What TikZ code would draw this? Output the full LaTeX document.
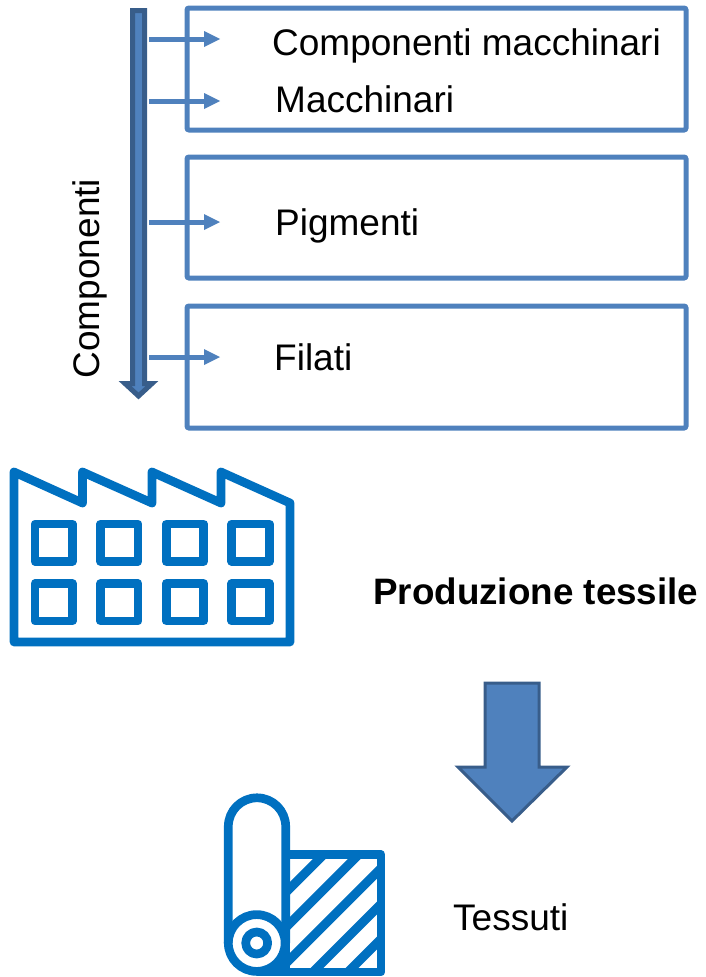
\documentclass[tikz,border=0pt]{standalone}
\usepackage{fontspec}
\setmainfont{Liberation Sans}
\definecolor{boxblue}{HTML}{4F81BD}
\definecolor{darkblue}{HTML}{385D8A}
\definecolor{iconblue}{HTML}{0070C0}
\tikzset{
  panel/.style={draw=boxblue,line width=5pt,rounded corners=2pt,outer sep=0pt,inner sep=0pt,anchor=north west},
  bigarrow/.style={draw=darkblue,fill=boxblue,line join=miter},
  icon/.style={draw=iconblue,line width=8.7pt,line join=round},
  label/.style={anchor=base west,inner sep=0pt,font=\fontsize{37}{40}\selectfont},
  boldlabel/.style={anchor=base west,inner sep=0pt,font=\fontsize{36.8}{40}\selectfont\bfseries},
}
\begin{document}
\begin{tikzpicture}[x=1pt,y=-1pt]
\useasboundingbox (0,0) rectangle (706,977);
% boxes
\node[panel,minimum width=499pt,minimum height=122pt] (box1) at (187,8) {};
\node[panel,minimum width=499pt,minimum height=121pt] (box2) at (187,157) {};
\node[panel,minimum width=499pt,minimum height=122pt] (box3) at (187,306) {};
% supply arrow
\draw[bigarrow,line width=5pt] (132.5,10.5) -- (144.5,10.5) -- (144.5,383.5) -- (152,383.5) -- (138.5,396) -- (125,383.5) -- (132.5,383.5) -- cycle;
% small arrows
\foreach \n/\y in {a/39,b/101,c/222,d/357}{
  \coordinate (\n0) at (149,\y);
  \coordinate (\n1) at (204,\y);
  \coordinate (\n2) at (220,\y);
  \draw[boxblue,line width=5pt] (\n0) -- (\n1);
  \fill[boxblue] (204,\y-8) -- (\n2) -- (204,\y+8) -- cycle;
}
% labels
\node[label] (t1) at (272,55) {Componenti macchinari};
\node[label] (t2) at (275,112) {Macchinari};
\node[label] (t3) at (275,235) {Pigmenti};
\node[label] (t4) at (274,370) {Filati};
\node[label,rotate=90] (t5) at (99,378.5) {Componenti};
\node[boldlabel] (t6) at (373,604) {Produzione tessile};
\node[label] (t7) at (453,930) {Tessuti};
% factory icon
\draw[icon] (14,472) -- (82.5,503) -- (82.5,472) -- (152,503) -- (152,472) -- (221,503) -- (221,472) -- (290,503) -- (290,642) -- (14,642) -- cycle;
\foreach \x in {35,100.6,166.2,231.8}{
  \foreach \y in {524,583.5}{
    \draw[icon] (\x,\y) rectangle ++(37.5,37.5);
  }
}
% big down arrow
\draw[bigarrow,line width=3pt] (485,683) -- (539,683) -- (539,767) -- (567,767) -- (512,821) -- (458,767) -- (485,767) -- cycle;
% fabric icon
\begin{scope}
  \clip (285.7,854.7) rectangle (381,972);
  \foreach \s in {1178.3,1213.3,1249.3,1285,1320}{
    \draw[iconblue,line width=9pt] (250,\s-250) -- (400,\s-400);
  }
\end{scope}
\fill[iconblue] (256.7,943) rectangle (290,976.3);
\fill[white] (256.7,943) circle (28.4);
\draw[icon] (285.7,854.7) -- (381,854.7) -- (381,972) -- (256.7,972);
\draw[icon] (228.3,943) -- (228.3,826.5) arc[start angle=180,end angle=360,radius=28.7] -- (285.7,943);
\draw[icon] (256.7,943) circle (28.4);
\draw[icon] (256.7,943) circle (11);
\end{tikzpicture}
\end{document}
